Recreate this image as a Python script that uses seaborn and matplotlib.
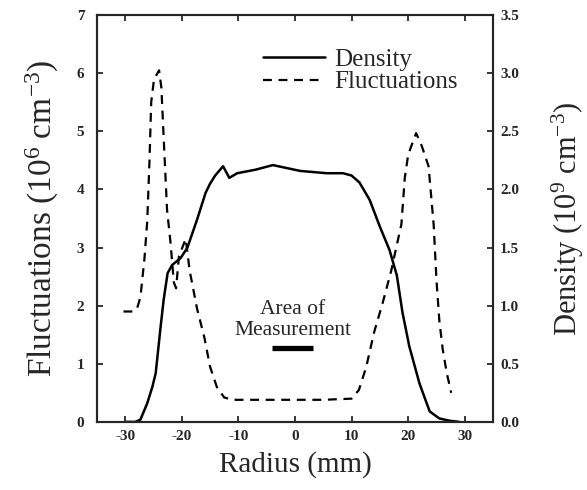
import matplotlib
matplotlib.use("Agg")
import matplotlib.pyplot as plt
import seaborn as sns
import numpy as np
import pandas as pd

# ---- data ----
fluct_r = [-30.3, -28.6, -27.9, -27.3, -26.6, -26.1, -25.7, -25.4, -24.9, -24.0,
           -23.6, -23.2, -22.6, -22.0, -21.4, -21.0, -20.5, -19.3, -18.6, -17.3,
           -16.0, -15.0, -13.8, -12.5, -11.0, -10.0, -5.0, 0.0, 5.0, 10.0,
           11.3, 12.6, 14.0, 15.5, 17.0, 18.0, 18.8, 19.4, 20.0, 21.4, 22.4,
           23.6, 24.5, 25.0, 25.5, 26.1, 26.8, 27.6]
fluct_v = [1.9, 1.9, 1.95, 2.15, 2.8, 3.45, 4.5, 5.5, 5.9, 6.05,
           5.75, 4.9, 3.65, 3.1, 2.4, 2.3, 2.85, 3.15, 2.6, 1.95,
           1.45, 0.95, 0.6, 0.42, 0.38, 0.38, 0.38, 0.38, 0.38, 0.4,
           0.55, 0.95, 1.55, 2.05, 2.6, 3.05, 3.4, 4.2, 4.6, 4.97, 4.75,
           4.4, 3.4, 2.44, 1.75, 1.25, 0.85, 0.5]

dens_r = [-29.9, -28.2, -27.3, -26.1, -25.2, -24.6, -23.8, -23.2, -22.5, -21.7,
          -20.2, -19.0, -17.3, -15.8, -15.0, -14.1, -12.7, -11.6, -10.2, -7.0,
          -3.9, 0.9, 5.6, 8.5, 10.0, 11.4, 13.2, 15.0, 16.7, 18.0, 19.0, 20.2,
          22.0, 23.8, 25.5, 27.3, 29.0]
dens_v = [0.0, 0.0, 0.02, 0.16, 0.3, 0.42, 0.79, 1.05, 1.28, 1.35,
          1.41, 1.5, 1.74, 1.97, 2.05, 2.12, 2.2, 2.1, 2.14, 2.17,
          2.21, 2.16, 2.14, 2.14, 2.12, 2.06, 1.91, 1.68, 1.48, 1.26, 0.94, 0.65,
          0.33, 0.09, 0.03, 0.01, 0.0]

area_r = [-4.0, 3.2]
area_level = [1.27, 1.27]

x_ticks = [-30, -20, -10, 0, 10, 20, 30]
left_ticks = [0, 1, 2, 3, 4, 5, 6, 7]
right_ticks = [0.0, 0.5, 1.0, 1.5, 2.0, 2.5, 3.0, 3.5]

# ---- style ----
sns.set_style("ticks")
plt.rcParams["font.family"] = ["Liberation Serif", "DejaVu Serif"]
plt.rcParams["mathtext.default"] = "regular"
plt.rcParams["axes.linewidth"] = 1.5

fig = plt.figure(figsize=(5.87, 4.90), dpi=100)
ax1 = fig.add_axes([0.165, 0.139, 0.675, 0.830])
ax2 = ax1.twinx()

fl = pd.DataFrame({"r": fluct_r, "v": fluct_v})
de = pd.DataFrame({"r": dens_r, "v": dens_v})

sns.lineplot(data=fl, x="r", y="v", ax=ax1, color="black", linewidth=1.6,
             linestyle=(0, (4, 3)), label="Fluctuations", legend=False)
sns.lineplot(data=de, x="r", y="v", ax=ax2, color="black", linewidth=1.8,
             label="Density", legend=False)
ax1.plot(area_r, area_level, color="black", linewidth=3.8, solid_capstyle="butt")

ax1.set_xlim(-35, 35)
ax1.set_ylim(0, 7)
ax2.set_ylim(0, 3.5)
ax1.set_xticks(x_ticks)
ax1.set_yticks(left_ticks)
ax2.set_yticks(right_ticks)
ax1.set_xticklabels([str(t) for t in x_ticks])
ax1.set_yticklabels([str(t) for t in left_ticks])
ax2.set_yticklabels([f"{t:.1f}" for t in right_ticks])

for a in (ax1, ax2):
    for s in a.spines.values():
        s.set_visible(True)
        s.set_linewidth(1.5)
ax1.tick_params(axis="x", direction="in", length=4.5, width=1.3,
                labelsize=11, top=True, pad=6)
ax1.tick_params(axis="y", direction="in", length=4.5, width=1.3,
                labelsize=11, pad=9)
ax2.tick_params(axis="y", direction="in", length=4.5, width=1.3,
                labelsize=11, pad=5)
for lab in ax1.get_xticklabels() + ax1.get_yticklabels() + ax2.get_yticklabels():
    lab.set_fontweight("bold")

ax1.set_xlabel("Radius (mm)", fontsize=21, labelpad=6)
ax1.set_ylabel("Fluctuations (10$^6$ cm$^{-3}$)", fontsize=24, labelpad=11)
ax2.set_ylabel("Density (10$^9$ cm$^{-3}$)", fontsize=22, labelpad=22)

ax1.text(-0.4, 1.86, "Area of", fontsize=15.5, ha="center", va="baseline")
ax1.text(-0.3, 1.50, "Measurement", fontsize=15.5, ha="center", va="baseline")

h = [ax2.lines[0], ax1.lines[0]]
leg = ax2.legend(h, ["Density", "Fluctuations"], loc="upper left",
                 bbox_to_anchor=(0.395, 0.943), frameon=False, fontsize=18,
                 handlelength=2.45, handletextpad=0.4, labelspacing=0.0,
                 borderaxespad=0)

fig.savefig("out.png", dpi=100)
